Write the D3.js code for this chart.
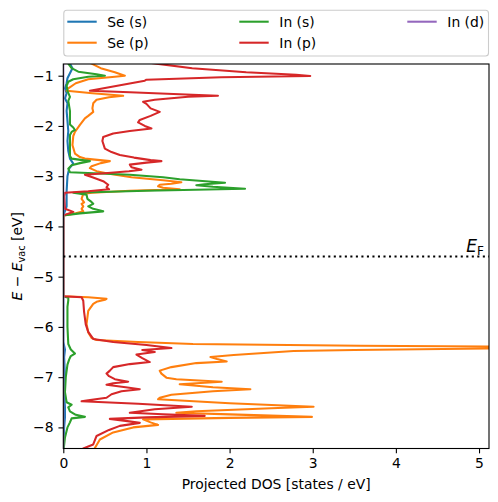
<!DOCTYPE html>
<html><head><meta charset="utf-8">
<script src="https://cdn.jsdelivr.net/npm/d3@7"></script>
<style>
body{margin:0;background:#fff;}
text{font-family:"DejaVu Sans",sans-serif;}
</style></head>
<body><svg id="c" width="498" height="502"></svg>
<script>
// ---- data: [energy (eV), projected DOS] ----
const seriesNames = ["Se (s)", "Se (p)", "In (s)", "In (p)", "In (d)"];
const seriesColors = ["#1f77b4", "#ff7f0e", "#2ca02c", "#d62728", "#9467bd"];
const xTicks = [0, 1, 2, 3, 4, 5];
const yTicks = [-1, -2, -3, -4, -5, -6, -7, -8];
const fermiLevel = -4.6;

const seS = [[-0.70,0.07],[-0.76,0.08],[-0.85,0.11],[-0.95,0.08],[-1.05,0.05],[-1.15,0.04],[-1.25,0.02],[-1.35,0.04],[-1.45,0.02],[-1.55,0.05],[-1.70,0.04],[-1.90,0.05],[-2.10,0.06],[-2.30,0.05],[-2.50,0.06],[-2.65,0.08],[-2.75,0.12],[-2.85,0.07],[-3.00,0.05],[-3.30,0.04],[-3.60,0.04],[-3.78,0.0],
 [-5.39,0.0],[-6.30,0.0],[-6.45,0.02],[-6.60,0.01],[-7.00,0.02],[-7.30,0.01],[-7.60,0.02],[-7.80,0.02],[-8.00,0.01],[-8.50,0.0]];

const seP = [[-0.70,0.30],[-0.76,0.34],[-0.85,0.45],[-0.93,0.62],[-1.00,0.74],[-1.02,0.62],[-1.07,0.30],[-1.15,0.15],[-1.25,0.06],[-1.30,0.04],[-1.35,0.35],[-1.40,0.72],[-1.43,0.55],[-1.48,0.40],[-1.55,0.36],[-1.65,0.35],[-1.72,0.36],[-1.80,0.30],[-1.85,0.26],[-1.98,0.20],[-2.12,0.14],[-2.20,0.12],[-2.38,0.11],[-2.55,0.14],[-2.62,0.20],[-2.65,0.26],[-2.70,0.56],[-2.74,0.45],[-2.80,0.34],[-2.84,0.32],[-2.90,0.40],[-2.95,0.55],[-3.02,0.82],[-3.08,1.20],[-3.12,1.42],[-3.15,1.30],[-3.17,1.16],[-3.20,1.14],[-3.23,1.20],[-3.26,1.40],[-3.29,0.80],[-3.33,0.35],[-3.35,0.24],[-3.45,0.22],[-3.52,0.25],[-3.55,0.22],[-3.60,0.24],[-3.65,0.22],[-3.70,0.24],[-3.74,0.15],[-3.78,0.0],
 [-5.39,0.0],[-5.41,0.30],[-5.44,0.52],[-5.46,0.50],[-5.50,0.40],[-5.54,0.36],[-5.68,0.30],[-5.94,0.28],[-6.11,0.30],[-6.22,0.34],[-6.26,0.40],[-6.30,0.90],[-6.34,1.56],[-6.375,3.57],[-6.39,5.10],[-6.41,6.50],[-6.43,5.10],[-6.46,3.50],[-6.48,2.77],[-6.56,2.05],[-6.60,1.77],[-6.64,1.85],[-6.69,1.965],[-6.72,1.60],[-6.80,1.30],[-6.87,1.16],[-6.93,1.18],[-7.01,1.24],[-7.04,1.36],[-7.09,1.905],[-7.14,1.40],[-7.20,1.80],[-7.24,2.25],[-7.28,1.80],[-7.35,1.30],[-7.41,1.16],[-7.44,1.14],[-7.52,2.00],[-7.59,3.01],[-7.62,2.50],[-7.68,1.60],[-7.71,1.36],[-7.74,2.00],[-7.79,2.99],[-7.81,2.00],[-7.84,0.96],[-7.90,1.05],[-7.95,1.14],[-8.00,0.84],[-8.10,0.60],[-8.24,0.44],[-8.41,0.38],[-8.50,0.36]];

const inS = [[-0.70,0.05],[-0.76,0.06],[-0.85,0.10],[-0.92,0.18],[-0.97,0.40],[-1.00,0.50],[-1.02,0.30],[-1.07,0.12],[-1.12,0.06],[-1.20,0.04],[-1.30,0.05],[-1.42,0.08],[-1.50,0.06],[-1.70,0.08],[-1.97,0.08],[-2.03,0.12],[-2.08,0.14],[-2.12,0.10],[-2.18,0.08],[-2.40,0.08],[-2.60,0.08],[-2.65,0.10],[-2.70,0.32],[-2.74,0.20],[-2.78,0.10],[-2.85,0.06],[-2.92,0.08],[-2.97,0.80],[-3.02,1.20],[-3.06,1.40],[-3.13,1.945],[-3.16,1.70],[-3.18,1.60],[-3.21,1.80],[-3.25,2.186],[-3.29,1.00],[-3.33,0.12],[-3.37,0.28],[-3.45,0.29],[-3.50,0.33],[-3.55,0.36],[-3.60,0.30],[-3.65,0.36],[-3.70,0.48],[-3.74,0.20],[-3.78,0.0],
 [-5.39,0.0],[-5.42,0.06],[-5.47,0.06],[-5.60,0.05],[-6.00,0.05],[-6.34,0.06],[-6.45,0.09],[-6.53,0.14],[-6.58,0.09],[-6.65,0.07],[-6.75,0.05],[-7.00,0.03],[-7.30,0.02],[-7.50,0.04],[-7.55,0.10],[-7.60,0.06],[-7.68,0.08],[-7.75,0.15],[-7.79,0.26],[-7.82,0.10],[-7.90,0.08],[-8.00,0.05],[-8.20,0.02],[-8.50,0.0]];

const inP = [[-0.70,0.85],[-0.76,1.12],[-0.85,1.55],[-0.93,2.20],[-0.98,2.80],[-1.005,2.97],[-1.03,1.90],[-1.08,1.00],[-1.10,0.98],[-1.30,0.32],[-1.33,0.80],[-1.37,1.40],[-1.40,1.86],[-1.42,1.50],[-1.48,1.10],[-1.52,0.96],[-1.56,1.00],[-1.65,1.05],[-1.72,1.16],[-1.80,1.05],[-1.88,0.92],[-1.93,0.90],[-2.00,0.98],[-2.05,1.06],[-2.10,0.80],[-2.15,0.60],[-2.22,0.48],[-2.30,0.47],[-2.45,0.50],[-2.52,0.58],[-2.58,0.68],[-2.63,0.85],[-2.68,1.05],[-2.70,1.18],[-2.73,1.00],[-2.77,0.80],[-2.82,0.82],[-2.87,0.94],[-2.90,0.79],[-2.94,0.50],[-2.97,0.26],[-3.02,0.35],[-3.10,0.48],[-3.17,0.54],[-3.22,0.52],[-3.26,0.55],[-3.30,0.30],[-3.33,0.02],[-3.40,0.01],[-3.65,0.02],[-3.71,0.12],[-3.75,0.05],[-3.78,0.0],
 [-5.39,0.0],[-5.41,0.22],[-5.48,0.24],[-5.70,0.25],[-5.95,0.27],[-6.10,0.30],[-6.24,0.36],[-6.30,0.60],[-6.36,1.00],[-6.42,1.30],[-6.46,0.95],[-6.50,1.10],[-6.55,0.88],[-6.62,0.95],[-6.70,1.04],[-6.74,0.80],[-6.80,0.60],[-6.87,0.56],[-6.93,0.52],[-6.98,0.55],[-7.04,0.62],[-7.09,0.78],[-7.12,0.60],[-7.15,0.52],[-7.20,0.75],[-7.24,0.92],[-7.28,0.70],[-7.34,0.58],[-7.41,0.52],[-7.46,0.30],[-7.48,0.22],[-7.53,0.90],[-7.59,1.545],[-7.64,1.10],[-7.71,0.80],[-7.74,1.20],[-7.77,1.70],[-7.80,1.00],[-7.83,0.56],[-7.87,0.75],[-7.91,0.92],[-7.97,0.68],[-8.05,0.55],[-8.17,0.40],[-8.34,0.36],[-8.42,0.24],[-8.50,0.20]];

const inD = [[-0.70,0.0],[-3.78,0.0],[-5.39,0.0],[-8.50,0.0]];

const allSeries = [seS, seP, inS, inP, inD];

// ---- layout ----
const svg = d3.select("#c");
const L = 63.3, R = 489, T = 64, B = 448.5;
const x = d3.scaleLinear().domain([0, 5.12]).range([L, R]);
const y = d3.scaleLinear().domain([-0.767, -8.42]).range([T, B]);
const FS = 13.9;

svg.append("defs").append("clipPath").attr("id","clip")
  .append("rect").attr("x",L).attr("y",T).attr("width",R-L).attr("height",B-T);

const line = d3.line().x(d => x(d[1])).y(d => y(d[0]));
const g = svg.append("g").attr("clip-path","url(#clip)");
allSeries.forEach((s,i) => {
  g.append("path").attr("d", line(s)).attr("fill","none")
   .attr("stroke", seriesColors[i]).attr("stroke-width",2.08)
   .attr("stroke-linejoin","round").attr("stroke-linecap","square");
});

// Fermi level
g.append("line").attr("x1",L).attr("x2",R).attr("y1",y(fermiLevel)).attr("y2",y(fermiLevel))
  .attr("stroke","#000").attr("stroke-width",2.08).attr("stroke-dasharray","2.08,3.44");
const ef = svg.append("text").attr("x",484).attr("y",y(fermiLevel)-5).attr("text-anchor","end")
  .attr("font-size",17).attr("fill","#000");
ef.append("tspan").attr("font-style","italic").text("E");
ef.append("tspan").attr("font-size",12).attr("dy",3).text("F");

// axes
const xAxis = svg.append("g").attr("transform",`translate(0,${B})`)
  .call(d3.axisBottom(x).tickValues(xTicks).tickFormat(d3.format("d")).tickSize(4.86).tickPadding(4.86));
const yAxis = svg.append("g").attr("transform",`translate(${L},0)`)
  .call(d3.axisLeft(y).tickValues(yTicks).tickFormat(d => "\u2212" + Math.abs(d)).tickSize(4.86).tickPadding(4.86));
[xAxis,yAxis].forEach(a => {
  a.select(".domain").remove();
  a.selectAll("line").attr("stroke","#000").attr("stroke-width",1.1);
  a.selectAll("text").attr("font-size",FS).attr("fill","#000").attr("font-family","DejaVu Sans");
});
svg.append("rect").attr("x",L).attr("y",T).attr("width",R-L).attr("height",B-T)
  .attr("fill","none").attr("stroke","#000").attr("stroke-width",1.1);

// axis labels
svg.append("text").attr("x",(L+R)/2).attr("y",489).attr("text-anchor","middle")
  .attr("font-size",FS).text("Projected DOS [states / eV]");
const yl = svg.append("text").attr("transform",`translate(22,${(T+B)/2}) rotate(-90)`)
  .attr("text-anchor","middle").attr("font-size",FS);
yl.append("tspan").attr("font-style","italic").text("E");
yl.append("tspan").text(" \u2212 ");
yl.append("tspan").attr("font-style","italic").text("E");
yl.append("tspan").attr("font-size",9.7).attr("dy",3).text("vac");
yl.append("tspan").attr("dy",-3).text(" [eV]");

// legend
const lg = svg.append("g");
lg.append("rect").attr("x",63.8).attr("y",10.3).attr("width",424.7).attr("height",45.7)
  .attr("rx",3).attr("fill","#fff").attr("fill-opacity",0.8).attr("stroke","#cccccc").attr("stroke-width",1.1);
const colX = [67.3, 239.3, 407.3];
const rowY = [21.7, 42.7];
seriesNames.forEach((n,i) => {
  const cx = colX[Math.floor(i/2)], cy = rowY[i%2];
  lg.append("line").attr("x1",cx).attr("x2",cx+29.4).attr("y1",cy).attr("y2",cy)
    .attr("stroke",seriesColors[i]).attr("stroke-width",2.08);
  lg.append("text").attr("x",cx+40).attr("y",cy+5).attr("font-size",FS).text(n);
});
</script></body></html>
